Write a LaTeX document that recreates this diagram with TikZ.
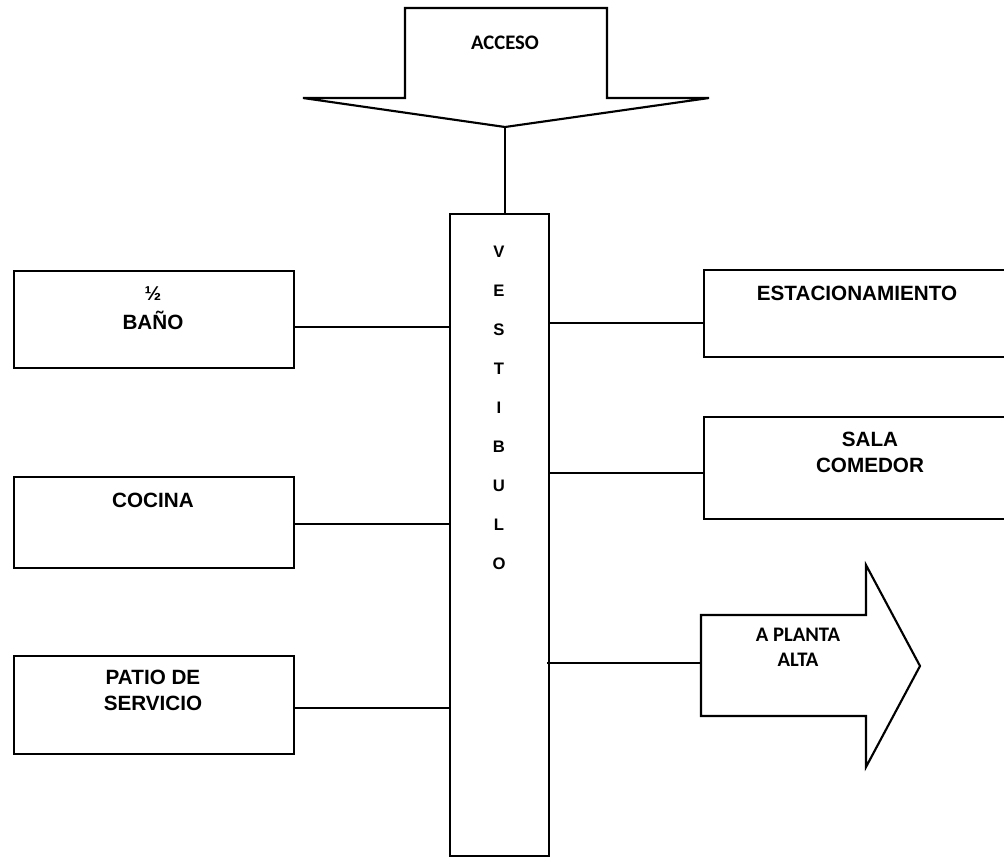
\documentclass[tikz,border=0pt]{standalone}
\usepackage{fontspec}
\setmainfont{Liberation Sans}
\newfontfamily\calib{Carlito}
\begin{document}
\begin{tikzpicture}[x=0.75pt,y=-0.75pt,
  room/.style={draw,line width=1.6pt,rectangle,inner sep=0pt,anchor=north west},
  lbl/.style={font=\bfseries\fontsize{15.5}{19.5}\selectfont,align=center,inner sep=0pt},
  clbl/.style={font=\calib\bfseries\fontsize{15.5}{18.75}\selectfont,align=center,inner sep=0pt},
  link/.style={line width=1.6pt},
  outline/.style={draw,line width=1.6pt,line join=miter}]
\useasboundingbox (0,0) rectangle (1004,858);
\clip (0,0) rectangle (1004,858);

% entrance arrow
\coordinate (acctip) at (505,127);
\draw[outline] (405,8) -- (607,8) -- (607,98) -- (709,98) -- (acctip)
  -- (303,98) -- (405,98) -- cycle;
\node[clbl] (acceso) at (505,43) {ACCESO};

% hall
\node[room,minimum width=74.25pt,minimum height=481.5pt] (vest) at (449,213) {};
\node[font=\bfseries\fontsize{12.5}{29.25}\selectfont,align=center,inner sep=0pt]
  (vestlbl) at (499,407.5) {V\\E\\S\\T\\I\\B\\U\\L\\O};

% rooms on the left
\node[room,minimum width=210pt,minimum height=72.75pt] (bano) at (13,270) {};
\node[font=\bfseries\fontsize{15}{17}\selectfont,inner sep=0pt] (half) at (153,294) {½};
\node[lbl] (banolbl) at (153,320) {BAÑO};

\node[room,minimum width=210pt,minimum height=68.25pt] (cocina) at (13,476) {};
\node[lbl] (cocinalbl) at (153,500) {COCINA};

\node[room,minimum width=210pt,minimum height=73.5pt] (patio) at (13,655) {};
\node[lbl] (patiolbl) at (153,690) {PATIO DE\\SERVICIO};

% rooms on the right
\node[room,minimum width=230.25pt,minimum height=65.25pt] (estac) at (703,269) {};
\node[lbl] (estaclbl) at (857,293) {ESTACIONAMIENTO};

\node[room,minimum width=230.25pt,minimum height=76.5pt] (sala) at (703,416) {};
\node[lbl] (salalbl) at (870,452.5) {SALA\\COMEDOR};

% stairs arrow
\coordinate (upin) at (701,663);
\draw[outline] (701,615) -- (866,615) -- (866,565) -- (920,666) -- (866,767)
  -- (866,716) -- (701,716) -- cycle;
\node[clbl] (upper) at (798,647.5) {A PLANTA\\ALTA};

% connectors
\draw[link] (acctip) -- (acctip |- vest.north);
\draw[link] (bano.east |- 0,327) -- (vest.west |- 0,327);
\draw[link] (cocina.east |- 0,524) -- (vest.west |- 0,524);
\draw[link] (patio.east |- 0,708) -- (vest.west |- 0,708);
\draw[link] (vest.east |- 0,323) -- (estac.west |- 0,323);
\draw[link] (vest.east |- 0,473) -- (sala.west |- 0,473);
\draw[link] ([xshift=-2.25pt]vest.east |- upin) -- (upin);
\end{tikzpicture}
\end{document}
